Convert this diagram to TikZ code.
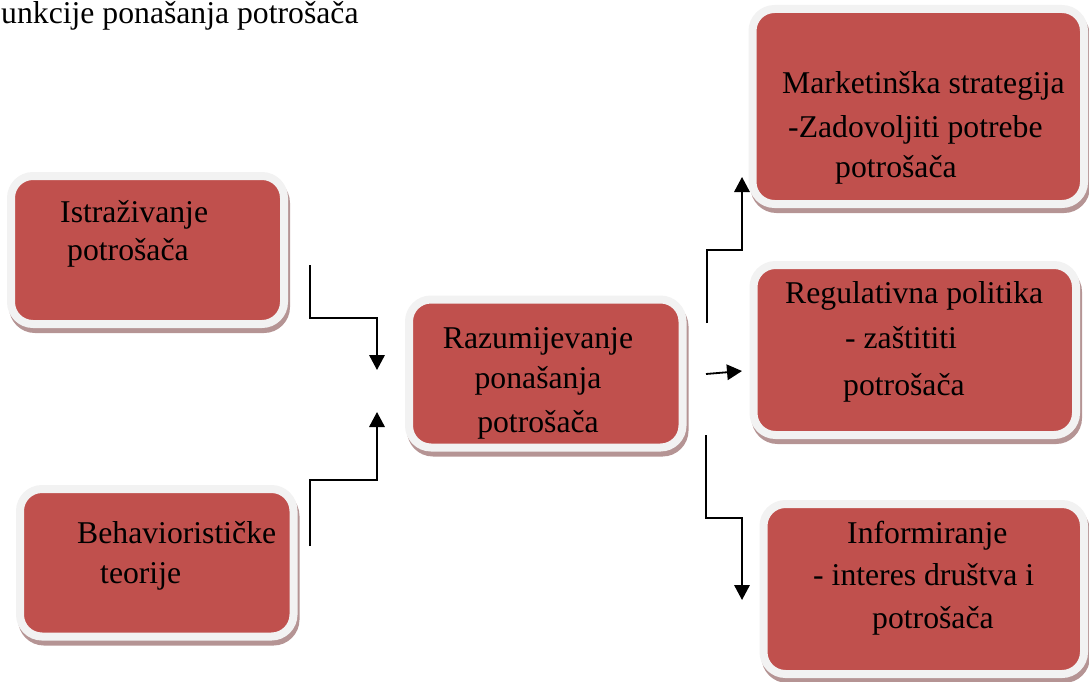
\documentclass[tikz,border=0pt]{standalone}
\usepackage{fontspec}
\setmainfont{Liberation Serif}
\usetikzlibrary{arrows.meta, shadows}
\usetikzlibrary{positioning}
\definecolor{boxred}{HTML}{C0504D}
\definecolor{boxrim}{HTML}{F2F2F2}
\definecolor{boxshade}{HTML}{B59494}
\tikzset{
    red_box/.style={
        rectangle,
        rounded corners=22pt,
        draw=boxrim,
        line width=8pt,
        fill=boxred,
        inner sep=0pt,
        drop shadow={shadow xshift=2pt, shadow yshift=-5pt, opacity=1,
            fill=boxshade, draw=boxshade, line width=8pt}
    },
    box_text/.style={
        anchor=base west,
        align=left,
        inner sep=0pt,
        font=\fontsize{31.7}{42}\selectfont
    },
    flow/.style={
        -{Triangle[length=15pt, width=15.5pt]},
        line width=1.8pt
    }
}

\begin{document}
\begin{tikzpicture}[x=1pt, y=-1pt]
\useasboundingbox (0,0) rectangle (1089,682);

\node [box_text] (title) at (1,24) {unkcije ponašanja potrošača};

% boxes
\node [red_box, minimum width=273pt, minimum height=148pt] (istr) at (147.5,250) {};
\node [red_box, minimum width=273.5pt, minimum height=147.5pt] (behav) at (156.75,562.75) {};
\node [red_box, minimum width=273.5pt, minimum height=148pt] (raz) at (545.75,373.5) {};
\node [red_box, minimum width=331.5pt, minimum height=195pt] (mark) at (918.25,106.5) {};
\node [red_box, minimum width=322.5pt, minimum height=170pt] (reg) at (914.75,350) {};
\node [red_box, minimum width=320.5pt, minimum height=170pt] (info) at (923.75,589) {};

% texts (placed by the baseline of their last line)
\node [box_text] (istr_t) at (60,260) {Istraživanje\\[-4pt]\hspace*{7pt}potrošača};
\node [box_text] (behav_t) at (77,583) {Behaviorističke\\[-2pt]\hspace*{23pt}teorije};
\node [box_text, align=center, anchor=base] (raz_t) at (538,432) {Razumijevanje\\[-2pt]ponašanja\\[2pt]potrošača};
\node [box_text] (mark_t) at (782,177) {Marketinška strategija\\[2pt]\hspace*{6pt}-Zadovoljiti potrebe\\[-2pt]\hspace*{53pt}potrošača};
\node [box_text] (reg_t) at (785,395) {Regulativna politika\\[3pt]\hspace*{60pt}- zaštititi\\[5pt]\hspace*{58pt}potrošača};
\node [box_text] (info_t) at (813,628) {\hspace*{34pt}Informiranje\\- interes društva i\\[1pt]\hspace*{59pt}potrošača};

% connectors
\coordinate (istr_out) at (310,265);
\coordinate (raz_in1) at (377,370);
\coordinate (behav_out) at (310,546);
\coordinate (raz_in2) at (377,412);
\coordinate (raz_out1) at (707,323);
\coordinate (mark_in) at (742,177);
\coordinate (raz_out2) at (706,374);
\coordinate (reg_in) at (742,371);
\coordinate (raz_out3) at (706,435);
\coordinate (info_in) at (742,600);

\draw [flow] (istr_out) -- ++(0,53) -| (raz_in1);
\draw [flow] (behav_out) -- ++(0,-66) -| (raz_in2);
\draw [flow] (raz_out1) -- ++(0,-73) -| (mark_in);
\draw [flow] (raz_out2) -- (reg_in);
\draw [flow] (raz_out3) -- ++(0,83) -| (info_in);
\end{tikzpicture}
\end{document}
